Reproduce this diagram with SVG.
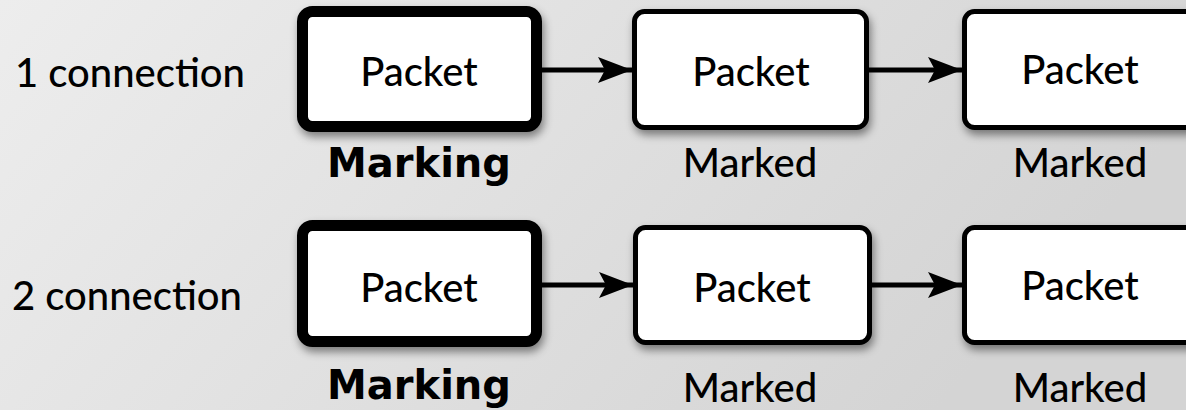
<svg xmlns="http://www.w3.org/2000/svg" width="1186" height="410" viewBox="0 0 1186 410">
<defs>
<linearGradient id="bg" x1="0" y1="0" x2="1" y2="0.3">
<stop offset="0" stop-color="#ededed"/>
<stop offset="1" stop-color="#d4d4d4"/>
</linearGradient>
<filter id="sh" x="-10%" y="-10%" width="125%" height="135%">
<feDropShadow dx="2" dy="5" stdDeviation="4" flood-color="#000" flood-opacity="0.45"/>
</filter>
<marker id="ah" markerUnits="userSpaceOnUse" markerWidth="36" markerHeight="28" refX="34" refY="14" orient="auto">
<path d="M0,1 L34,14 L0,27 L7,14 z" fill="#000"/>
</marker>
<style>
.box{fill:#fff;stroke:#000;stroke-width:5;filter:url(#sh)}
.thick{stroke-width:11}
.t{font-family:Lato,"Liberation Sans",sans-serif;font-size:40px;font-weight:500;fill:#000;text-anchor:middle}
.lbl{font-family:Lato,"Liberation Sans",sans-serif;font-size:40px;font-weight:500;fill:#000}
.b{font-family:"DejaVu Sans",sans-serif;font-weight:bold}
.c{stroke:#000;stroke-width:5;fill:none;marker-end:url(#ah)}
</style>
</defs>
<rect width="1186" height="410" fill="url(#bg)"/>
<text class="lbl" x="15" y="87">1 connection</text>
<text class="lbl" x="12" y="310">2 connection</text>
<g id="connectors">
<line class="c" x1="542" y1="70" x2="632" y2="70"/>
<line class="c" x1="869" y1="70" x2="962" y2="70"/>
<line class="c" x1="542" y1="285" x2="633" y2="285"/>
<line class="c" x1="871" y1="285" x2="962" y2="285"/>
</g>
<g id="r1n1">
<rect class="box thick" x="302.5" y="11.5" width="234" height="115" rx="10"/>
<text class="t" x="419" y="86">Packet</text>
<text class="t b" x="419" y="177">Marking</text>
</g>
<g id="r1n2">
<rect class="box" x="634.5" y="11.5" width="232" height="116" rx="10"/>
<text class="t" x="751" y="86">Packet</text>
<text class="t" x="750" y="177">Marked</text>
</g>
<g id="r1n3">
<rect class="box" x="964.5" y="11.5" width="232" height="116" rx="10"/>
<text class="t" x="1080" y="84">Packet</text>
<text class="t" x="1080" y="177">Marked</text>
</g>
<g id="r2n1">
<rect class="box thick" x="302.5" y="225.5" width="234" height="116" rx="10"/>
<text class="t" x="419" y="302">Packet</text>
<text class="t b" x="419" y="399">Marking</text>
</g>
<g id="r2n2">
<rect class="box" x="635.5" y="227.5" width="234" height="115" rx="10"/>
<text class="t" x="752" y="302">Packet</text>
<text class="t" x="750" y="402">Marked</text>
</g>
<g id="r2n3">
<rect class="box" x="964.5" y="227.5" width="234" height="115" rx="10"/>
<text class="t" x="1080" y="300">Packet</text>
<text class="t" x="1080" y="402">Marked</text>
</g>
</svg>
